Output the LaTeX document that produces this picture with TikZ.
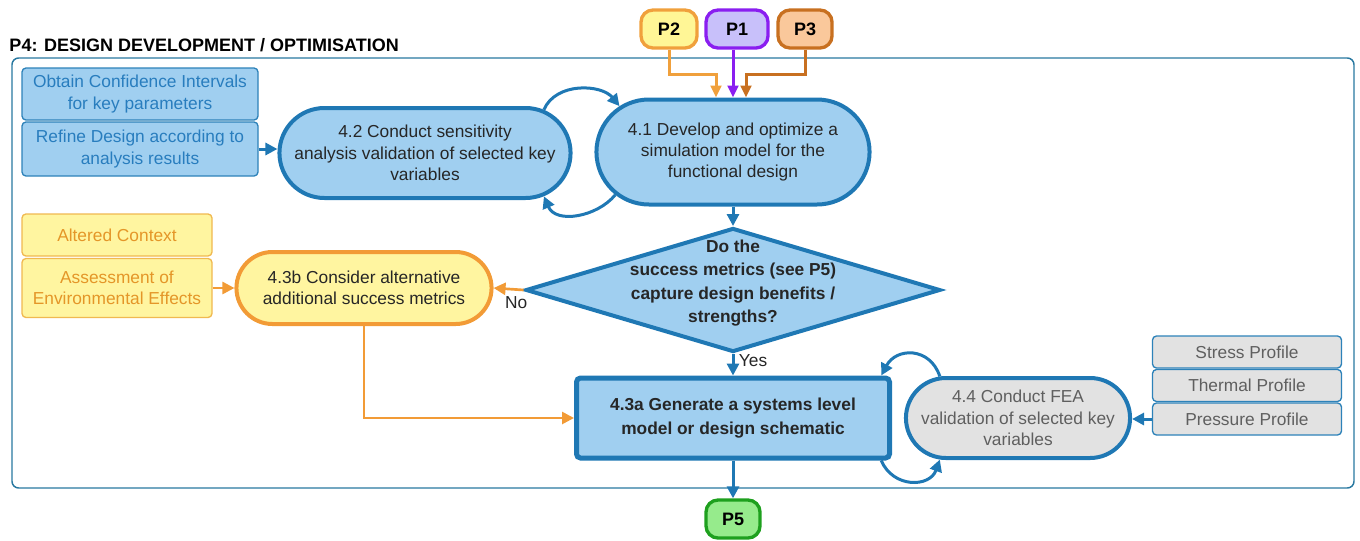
\documentclass[tikz,border=0pt]{standalone}
\usepackage{fontspec}
\setmainfont{Liberation Sans}
\usetikzlibrary{arrows.meta,shapes.misc,shapes.geometric,calc}

\definecolor{flowblue}{RGB}{31,120,180}
\definecolor{flowfill}{RGB}{160,207,240}
\definecolor{framecol}{RGB}{40,120,160}
\definecolor{sidetext}{RGB}{40,125,190}
\definecolor{sideline}{RGB}{45,130,185}
\definecolor{amber}{RGB}{242,155,54}
\definecolor{lemon}{RGB}{255,245,160}
\definecolor{ambertext}{RGB}{228,150,40}
\definecolor{amberline}{RGB}{240,185,80}
\definecolor{greyfill}{RGB}{226,226,226}
\definecolor{greytext}{RGB}{95,95,95}
\definecolor{ptwoline}{RGB}{240,160,60}
\definecolor{ptwofill}{RGB}{255,246,150}
\definecolor{poneline}{RGB}{138,30,240}
\definecolor{ponefill}{RGB}{200,192,250}
\definecolor{pthreeline}{RGB}{200,112,32}
\definecolor{pthreefill}{RGB}{250,200,155}
\definecolor{pfiveline}{RGB}{30,160,30}
\definecolor{pfivefill}{RGB}{150,235,140}

\tikzset{every picture/.style={line width=0.75pt}}
\tikzset{
  body/.style={font=\fontsize{13}{16}\selectfont},
  stadium/.style={rounded rectangle, draw=flowblue, fill=flowfill, line width=3pt, align=center, body, text=black!85},
  sidebox/.style={rectangle, rounded corners=3pt, draw=sideline, fill=flowfill, line width=1pt, align=center, minimum width=177pt, inner sep=1pt, body, text=sidetext},
  pbox/.style={rectangle, rounded corners=9pt, line width=2.5pt, minimum height=28.5pt, font=\fontsize{13.5}{16}\selectfont\bfseries},
  flow/.style={draw=flowblue, line width=2.25pt, -{Triangle[length=9pt,width=9pt]}},
  amberflow/.style={draw=amber, line width=2pt, -{Triangle[length=9pt,width=9pt]}},
  pflow/.style={line width=2.25pt, -{Triangle[length=9pt,width=8pt]}},
}

\begin{document}
\begin{tikzpicture}[x=0.75pt,y=0.75pt,yscale=-1,xscale=1]
\useasboundingbox (0,0) rectangle (1360,540);

%Frame
\draw [framecol, line width=1.1pt, rounded corners=5pt] (12,58) rectangle (1354,488);
% Text Node
\node (title) [anchor=base west, inner sep=0pt, font=\fontsize{13.5}{16}\selectfont\bfseries] at (9,51) {P4: DESIGN DEVELOPMENT / OPTIMISATION};

%Inputs
\node (p2) [pbox, draw=ptwoline, fill=ptwofill, minimum width=42pt] at (669,29) {P2};
\node (p1) [pbox, draw=poneline, fill=ponefill, minimum width=46.5pt] at (737,29) {P1};
\node (p3) [pbox, draw=pthreeline, fill=pthreefill, minimum width=40.5pt] at (805,29) {P3};

%Rounded Rect [4.1]
\node (dev) [stadium, minimum width=211.5pt, minimum height=78.75pt] at (733,152) {4.1 Develop and optimize a\\simulation model for the\\functional design};
%Rounded Rect [4.2]
\node (sens) [stadium, minimum width=225pt, minimum height=67.5pt] at (425,153) {4.2 Conduct sensitivity\\analysis validation of selected key\\variables};
%Side boxes
\node (conf) [sidebox, minimum height=39pt] at (140,94) {Obtain Confidence Intervals\\for key parameters};
\node (refine) [sidebox, minimum height=40.5pt] at (140,149) {Refine Design according to\\analysis results};

%Diamond
\node (check) [diamond, draw=flowblue, fill=flowfill, line width=3pt, minimum width=311pt, minimum height=93pt, inner sep=0pt] at (733,290) {};
\node (checktext) [align=center, font=\fontsize{13}{17.5}\selectfont\bfseries, text=black!85] at (733,283) {Do the\\success metrics (see P5)\\capture design benefits /\\strengths?};

%Rounded Rect [4.3b]
\node (alt) [stadium, draw=amber, fill=lemon, minimum width=198pt, minimum height=54pt] at (364,288) {4.3b Consider alternative\\additional success metrics};
\node (altctx) [sidebox, draw=amberline, fill=lemon, text=ambertext, minimum width=142.5pt, minimum height=31.5pt] at (117,235) {Altered Context};
\node (envfx) [sidebox, draw=amberline, fill=lemon, text=ambertext, minimum width=142.5pt, minimum height=44.25pt] at (117,288) {Assessment of\\Environmental Effects};

%Rect [4.3a]
\node (gen) [rectangle, rounded corners=3pt, draw=flowblue, fill=flowfill, line width=3.75pt, minimum width=234.75pt, minimum height=60pt, align=center, font=\fontsize{13}{17.5}\selectfont\bfseries, text=black!85] at (733,418) {4.3a Generate a systems level\\model or design schematic};
%Rounded Rect [4.4]
\node (fea) [stadium, fill=greyfill, text=greytext, minimum width=174.75pt, minimum height=60pt] at (1018,418) {4.4 Conduct FEA\\validation of selected key\\variables};
\node (stress) [sidebox, fill=greyfill, text=greytext, minimum width=141.75pt, minimum height=24pt] at (1247,352) {Stress Profile};
\node (thermal) [sidebox, fill=greyfill, text=greytext, minimum width=141.75pt, minimum height=24pt] at (1247,385.5) {Thermal Profile};
\node (pressure) [sidebox, fill=greyfill, text=greytext, minimum width=141.75pt, minimum height=24pt] at (1247,419) {Pressure Profile};

%Output
\node (p5) [pbox, draw=pfiveline, fill=pfivefill, minimum width=40.5pt] at (733,519) {P5};

%Connectors
\draw [pflow, draw=ptwoline] (p2.south) -- ++(0,25) -| ($(dev.north)+(-17,0)$);
\draw [pflow, draw=poneline] (p1.south -| dev.north) -- (dev.north);
\draw [pflow, draw=pthreeline] (p3.south) -- ++(0,25) -| ($(dev.north)+(13,0)$);
\draw [flow] (sens.20) .. controls +(12,-28) and +(-18,-22) .. (dev.158);
\draw [flow] (dev.200) .. controls +(-18,22) and +(12,28) .. (sens.-20);
\draw [flow] (refine.east) -- (refine.east -| sens.west);
\draw [flow] (dev.south) -- (check.north);
\draw [flow] (check.south) -- (gen.north) node [pos=0.3, anchor=west, body, text=black!85] {Yes};
\draw [amberflow] (check.west) -- (alt.east) node [pos=0.25, anchor=north, yshift=-1pt, body, text=black!85] {No};
\draw [amberflow] (envfx.east) -- (alt.west);
\draw [amberflow] (alt.south) |- (gen.west);
\draw [flow] (fea.152) .. controls +(-10,-30) and +(15,-28) .. (gen.16);
\draw [flow] (gen.-16) .. controls +(12,28) and +(-10,28) .. (fea.-152);
\draw [flow] (pressure.west) -- (pressure.west -| fea.east);
\draw [flow] (gen.south) -- (p5.north);

\end{tikzpicture}
\end{document}
